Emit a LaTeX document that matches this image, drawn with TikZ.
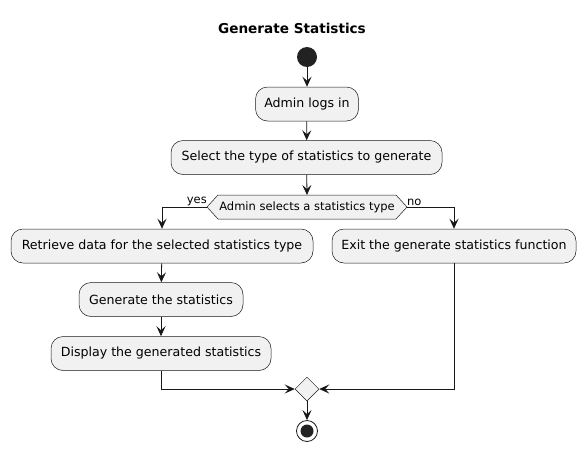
\documentclass[tikz,border=0pt]{standalone}
\usepackage{fontspec}
\setmainfont{DejaVu Sans}
\usetikzlibrary{arrows.meta,shapes.geometric}
\definecolor{ln}{HTML}{181818}
\definecolor{bg}{HTML}{F1F1F1}
\definecolor{dk}{HTML}{222222}
\tikzset{
  act/.style={draw=ln, fill=bg, rounded corners=12pt, line width=0.5pt,
    minimum height=34pt, inner sep=0pt, font=\fontsize{12.6}{14}\selectfont},
  arr/.style={draw=ln, line width=0.8pt, -{Stealth[length=10pt,width=9pt,inset=4pt]}},
  lbl/.style={font=\fontsize{11.5}{13}\selectfont, inner sep=1pt},
}
\begin{document}
\begin{tikzpicture}[x=1pt,y=-1pt]
\useasboundingbox (0,0) rectangle (586,453);
\node[font=\fontsize{13.6}{16}\selectfont\bfseries] (title) at (292,28) {Generate Statistics};
\node[circle, fill=dk, minimum size=20pt, inner sep=0pt] (start) at (307,57) {};
\node[act, minimum width=103pt] (admin) at (307,104) {Admin logs in};
\node[act, minimum width=271pt] (select) at (306.5,157.5) {Select the type of statistics to generate};
% decision
\coordinate (decL) at (207,207);
\coordinate (decR) at (407,207);
\coordinate (decT) at (307,195);
\filldraw[draw=ln, fill=bg, line width=0.5pt] (decL) -- (218,195) -- (396,195) -- (decR) -- (396,219) -- (218,219) -- cycle;
\node[lbl] (dec) at (307,207) {Admin selects a statistics type};
\node[act, minimum width=302pt] (retr) at (162,246) {Retrieve data for the selected statistics type};
\node[act, minimum width=244pt] (exit) at (454,246) {Exit the generate statistics function};
\node[act, minimum width=164pt] (gen) at (161,299.5) {Generate the statistics};
\node[act, minimum width=220pt] (disp) at (161,353.5) {Display the generated statistics};
\node[diamond, draw=ln, fill=bg, line width=0.5pt, minimum size=24pt, inner sep=0pt] (merge) at (307,389) {};
\node[circle, draw=ln, fill=white, line width=0.8pt, minimum size=21pt, inner sep=0pt] (end) at (307,431) {};
\fill[dk] (end.center) circle (6.5pt);
\draw[arr] (start) -- (admin);
\draw[arr] (admin) -- (select);
\draw[arr] (select) -- (decT);
\draw[arr] (decL) -| (retr.north);
\draw[arr] (decR) -| (exit.north);
\node[lbl, anchor=south east] (yes) at (208,207) {yes};
\node[lbl, anchor=south west] (no) at (406,207) {no};
\draw[arr] (retr) -- (gen);
\draw[arr] (gen) -- (disp);
\draw[arr] (disp.south) |- (merge.west);
\draw[arr] (exit.south) |- (merge.east);
\draw[arr] (merge) -- (end);
\end{tikzpicture}
\end{document}
